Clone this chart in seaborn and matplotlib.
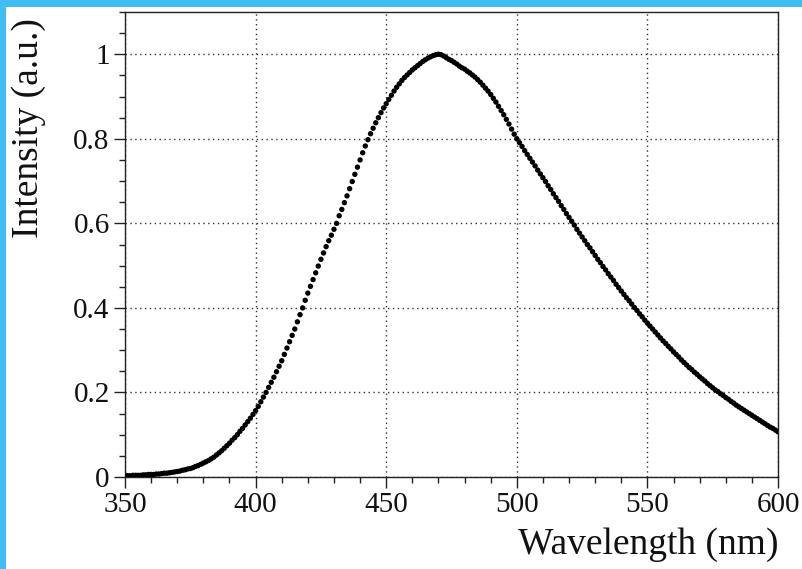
import numpy as np
import pandas as pd
import matplotlib
matplotlib.use("Agg")
import matplotlib.pyplot as plt
from matplotlib.patches import Rectangle
from matplotlib.ticker import MultipleLocator
import seaborn as sns

wavelength = list(range(350, 601))
intensity = [
    0.003, 0.003, 0.003, 0.004, 0.004, 0.004, 0.004, 0.005, 0.005, 0.006,
    0.006, 0.006, 0.007, 0.007, 0.008, 0.009, 0.009, 0.010, 0.011, 0.012,
    0.013, 0.014, 0.016, 0.017, 0.019, 0.020, 0.022, 0.025, 0.027, 0.030,
    0.033, 0.036, 0.039, 0.043, 0.047, 0.052, 0.057, 0.062, 0.068, 0.074,
    0.080, 0.087, 0.093, 0.100, 0.108, 0.115, 0.123, 0.131, 0.139, 0.148,
    0.157, 0.167, 0.178, 0.189, 0.200, 0.212, 0.224, 0.236, 0.249, 0.262,
    0.275, 0.290, 0.305, 0.320, 0.335, 0.350, 0.367, 0.384, 0.400, 0.418,
    0.435, 0.451, 0.467, 0.483, 0.499, 0.515, 0.530, 0.545, 0.559, 0.572,
    0.586, 0.600, 0.618, 0.633, 0.649, 0.665, 0.682, 0.699, 0.716, 0.733,
    0.750, 0.767, 0.783, 0.798, 0.812, 0.825, 0.838, 0.850, 0.862, 0.873,
    0.883, 0.893, 0.903, 0.913, 0.922, 0.930, 0.938, 0.945, 0.951, 0.957,
    0.963, 0.968, 0.973, 0.978, 0.983, 0.987, 0.991, 0.994, 0.997, 0.999,
    1.000, 0.999, 0.996, 0.992, 0.988, 0.985, 0.981, 0.977, 0.972, 0.968,
    0.965, 0.960, 0.956, 0.951, 0.946, 0.940, 0.934, 0.927, 0.920, 0.913,
    0.905, 0.896, 0.887, 0.877, 0.867, 0.857, 0.846, 0.835, 0.823, 0.811,
    0.800, 0.791, 0.782, 0.772, 0.763, 0.754, 0.745, 0.736, 0.726, 0.717,
    0.708, 0.699, 0.689, 0.680, 0.670, 0.661, 0.652, 0.642, 0.633, 0.623,
    0.614, 0.605, 0.596, 0.586, 0.577, 0.568, 0.559, 0.550, 0.542, 0.533,
    0.524, 0.515, 0.507, 0.498, 0.490, 0.481, 0.473, 0.465, 0.456, 0.448,
    0.440, 0.432, 0.424, 0.417, 0.409, 0.401, 0.394, 0.386, 0.379, 0.371,
    0.364, 0.357, 0.350, 0.343, 0.336, 0.329, 0.322, 0.316, 0.309, 0.303,
    0.296, 0.290, 0.284, 0.277, 0.271, 0.265, 0.259, 0.254, 0.248, 0.243,
    0.237, 0.232, 0.227, 0.221, 0.216, 0.211, 0.206, 0.202, 0.197, 0.193,
    0.188, 0.184, 0.179, 0.175, 0.170, 0.166, 0.162, 0.158, 0.154, 0.150,
    0.146, 0.142, 0.138, 0.134, 0.130, 0.126, 0.122, 0.118, 0.115, 0.111,
    0.107,
]
x_ticks = [350, 400, 450, 500, 550, 600]
y_ticks = [0, 0.2, 0.4, 0.6, 0.8, 1]
y_tick_labels = ["0", "0.2", "0.4", "0.6", "0.8", "1"]
x_label = "Wavelength (nm)"
y_label = "Intensity (a.u.)"

sns.set_theme(style="white")
plt.rcParams["font.family"] = ["Liberation Serif", "DejaVu Serif"]

df = pd.DataFrame({"wl": wavelength, "I": intensity})

fig = plt.figure(figsize=(8.02, 5.69), dpi=100, facecolor="white")
W, H = 802, 569
ax = fig.add_axes([125 / W, 1 - 477 / H, (778 - 125) / W, (477 - 12) / H])

sns.scatterplot(data=df, x="wl", y="I", ax=ax, color="black", s=15,
                linewidth=0, edgecolor="none", legend=False, zorder=3)

ax.set_xlim(350, 600)
ax.set_ylim(0, 1.1)
ax.set_xticks(x_ticks)
ax.set_xticklabels([str(v) for v in x_ticks])
ax.set_yticks(y_ticks)
ax.set_yticklabels(y_tick_labels)
ax.xaxis.set_minor_locator(MultipleLocator(10))
ax.yaxis.set_minor_locator(MultipleLocator(0.05))
ax.tick_params(axis="both", which="major", direction="out", length=8, width=1,
               color="#222222", labelsize=21, pad=3, labelcolor="#111111",
               bottom=True, left=True, top=False, right=False)
ax.tick_params(axis="both", which="minor", direction="out", length=4, width=1,
               color="#222222", bottom=True, left=True, top=False, right=False)

ax.grid(True, which="major", linestyle=(0, (1, 2.5)), color="#333333", linewidth=1.0)
ax.set_axisbelow(True)
for sp in ax.spines.values():
    sp.set_visible(True)
    sp.set_color("#222222")
    sp.set_linewidth(1.0)

ax.set_xlabel(x_label, fontsize=27, color="#111111", ha="right", va="center")
ax.xaxis.set_label_coords(1.0, (477 - 545) / 465)
ax.set_ylabel(y_label, fontsize=27, color="#111111", ha="center", va="center")
ax.yaxis.set_label_coords((29 - 125) / 653, (477 - 128) / 465)

blue = "#41BEF1"
fig.patches.append(Rectangle((0, 1 - 7 / H), 1, 7 / H, transform=fig.transFigure,
                             facecolor=blue, edgecolor="none", zorder=10))
fig.patches.append(Rectangle((0, 0), 6 / W, 1, transform=fig.transFigure,
                             facecolor=blue, edgecolor="none", zorder=10))

fig.savefig("out.png", dpi=100, facecolor="white")
